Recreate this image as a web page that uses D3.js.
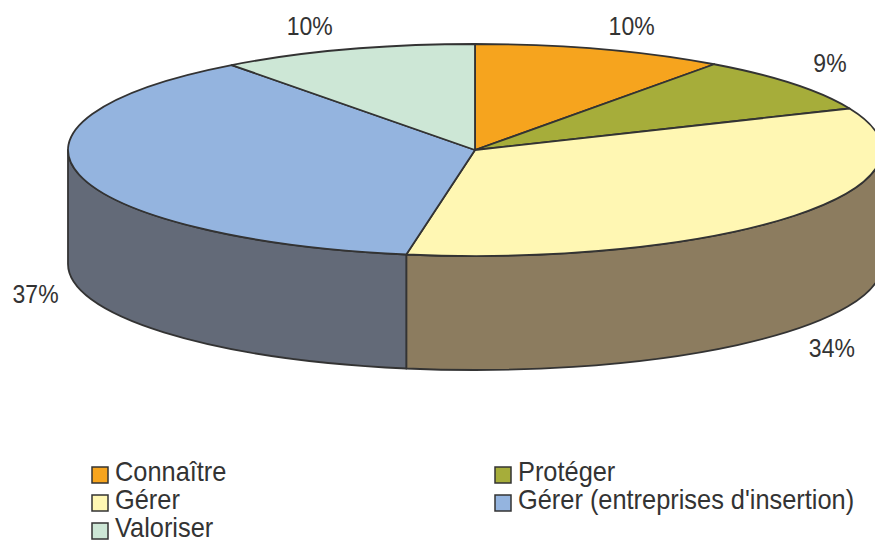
<!DOCTYPE html>
<html><head><meta charset="utf-8">
<script src="https://cdn.jsdelivr.net/npm/d3@7"></script>
<style>html,body{margin:0;padding:0;background:#fff}</style>
</head><body>
<svg id="chart" width="875" height="543"></svg>
<script>
// ---- data ----
const categories = ["Connaître", "Protéger", "Gérer", "Gérer (entreprises d'insertion)", "Valoriser"];
const values = [10.0, 8.6, 34.1, 37.1, 10.2];
const topColors = ["#F6A41E", "#A6AD3A", "#FFF7B3", "#94B4DF", "#CDE7D6"];
const sideColors = ["#7B5210", "#53571D", "#8C7C5F", "#636A78", "#677369"];
const labelNudge = [[16, 5], [-1, -2], [0, 0], [3, -2], [-22, 5]];

// ---- layout ----
const cx = 475, cy = 150, rx = 407, ry = 106, depth = 114;
const labRx = 455, labRy = 136;
const stroke = "#333333";
const font = "'Liberation Sans', Arial, Helvetica, sans-serif";

const svg = d3.select("#chart");
const data = categories.map((c, i) => ({cat: c, value: values[i], i}));
const total = d3.sum(values);
const arcs = d3.pie().sort(null).value(d => d.value)(data);
const topColor = d3.scaleOrdinal().domain(categories).range(topColors);
const sideColor = d3.scaleOrdinal().domain(categories).range(sideColors);
const fmt = d3.format(".0%");

const pt = (a, dy = 0) => [cx + rx * Math.sin(a), cy - ry * Math.cos(a) + dy];

// ---- side walls (front half: angles PI/2 .. 3PI/2) ----
const sides = arcs.map(d => {
  const s = Math.max(d.startAngle, Math.PI / 2), e = Math.min(d.endAngle, 3 * Math.PI / 2);
  return {d, s, e};
}).filter(o => o.e > o.s);

svg.append("g").selectAll("path").data(sides).join("path")
  .attr("d", o => {
    const a = pt(o.s), b = pt(o.e), b2 = pt(o.e, depth), a2 = pt(o.s, depth);
    return `M${a[0]},${a[1]} A${rx},${ry} 0 0 1 ${b[0]},${b[1]} L${b2[0]},${b2[1]} A${rx},${ry} 0 0 0 ${a2[0]},${a2[1]} Z`;
  })
  .attr("fill", o => sideColor(o.d.data.cat))
  .attr("stroke", stroke).attr("stroke-width", 1.8).attr("stroke-linejoin", "round");

// ---- top faces ----
svg.append("g").selectAll("path").data(arcs).join("path")
  .attr("d", d => {
    const a = pt(d.startAngle), b = pt(d.endAngle);
    const large = (d.endAngle - d.startAngle) > Math.PI ? 1 : 0;
    return `M${cx},${cy} L${a[0]},${a[1]} A${rx},${ry} 0 ${large} 1 ${b[0]},${b[1]} Z`;
  })
  .attr("fill", d => topColor(d.data.cat))
  .attr("stroke", stroke).attr("stroke-width", 1.8).attr("stroke-linejoin", "round");

// ---- percentage labels ----
const labFs = 25;
svg.append("g").selectAll("g").data(arcs).join("g")
  .attr("transform", d => {
    const m = (d.startAngle + d.endAngle) / 2;
    const x = cx + labRx * Math.sin(m) + labelNudge[d.index][0];
    const y = cy - labRy * Math.cos(m) + (Math.cos(m) < 0 ? depth : 0) + labelNudge[d.index][1];
    return `translate(${x},${y + labFs * 0.36}) scale(0.92,1)`;
  })
  .append("text")
  .attr("text-anchor", "middle")
  .attr("font-family", font).attr("font-size", labFs).attr("fill", "#333")
  .text(d => fmt(d.data.value / total));

// ---- legend ----
const legFs = 27;
const colX = [92, 495], rowY0 = 475, rowStep = 28;
const leg = svg.append("g").selectAll("g").data(data).join("g")
  .attr("transform", d => `translate(${colX[d.i % 2]},${rowY0 + Math.floor(d.i / 2) * rowStep})`);
leg.append("rect").attr("x", 0).attr("y", -8).attr("width", 16).attr("height", 16)
  .attr("fill", d => topColor(d.cat)).attr("stroke", stroke).attr("stroke-width", 1.5);
leg.append("g").attr("transform", "translate(23,6) scale(0.94,1)")
  .append("text").attr("font-family", font).attr("font-size", legFs).attr("fill", "#333")
  .text(d => d.cat);
</script>
</body></html>
